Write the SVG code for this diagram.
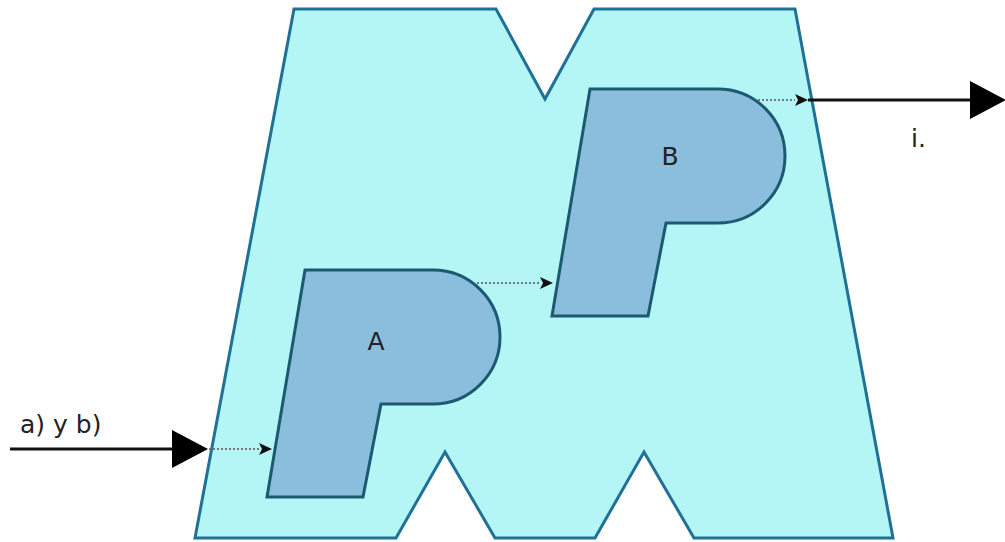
<svg xmlns="http://www.w3.org/2000/svg" width="1005" height="542" viewBox="0 0 1005 542">
<style>
.m{fill:#b3f6f5;stroke:#1f7196;stroke-width:3;stroke-linejoin:miter}
.p{fill:#8bbedc;stroke:#1b5a70;stroke-width:3;stroke-linejoin:miter}
.lbl{font-family:"DejaVu Sans",Verdana,sans-serif;font-size:25px;fill:#222}
.dot{stroke:#777;stroke-width:2;stroke-dasharray:2,2;fill:none}
.solid{stroke:#111;stroke-width:3;fill:none}
</style>
<defs>
<marker id="big" markerWidth="36" markerHeight="38" refX="0" refY="19" orient="auto" markerUnits="userSpaceOnUse">
<path d="M0,0 L36,19 L0,38 Z" fill="#000"/>
</marker>
<marker id="small" markerWidth="13" markerHeight="12" refX="0" refY="6" orient="auto" markerUnits="userSpaceOnUse">
<path d="M0,0 L13,6 L0,12 L3,6 Z" fill="#111"/>
</marker>
</defs>
<rect width="1005" height="542" fill="#fff"/>
<g id="process">
<path class="m" d="M294,9 L496,9 L545,99 L594,9 L795,9 L893,538 L694,538 L644,452 L595,538 L495,538 L445,452 L396,538 L195,538 Z"/>
</g>
<g id="A">
<path class="p" d="M305,270 L433,270 A67,67 0 0 1 433,404 L381,404 L363,497 L267,497 Z"/>
<text class="lbl" x="376" y="350" text-anchor="middle">A</text>
</g>
<g id="B">
<path class="p" d="M590,89 L718,89 A67,67 0 0 1 718,223 L666,223 L648,316 L552,316 Z"/>
<text class="lbl" x="670" y="165" text-anchor="middle">B</text>
</g>
<g id="connectors">
<line class="solid" x1="10" y1="449" x2="172" y2="449" marker-end="url(#big)"/>
<line class="dot" x1="209" y1="449" x2="259" y2="449" marker-end="url(#small)"/>
<line class="dot" x1="477" y1="283" x2="540" y2="283" marker-end="url(#small)"/>
<line class="dot" x1="758" y1="100" x2="795" y2="100" marker-end="url(#small)"/>
<line class="solid" x1="808" y1="100" x2="970" y2="100" marker-end="url(#big)"/>
</g>
<text class="lbl" x="20" y="433">a) y b)</text>
<text class="lbl" x="911" y="147">i.</text>
</svg>
